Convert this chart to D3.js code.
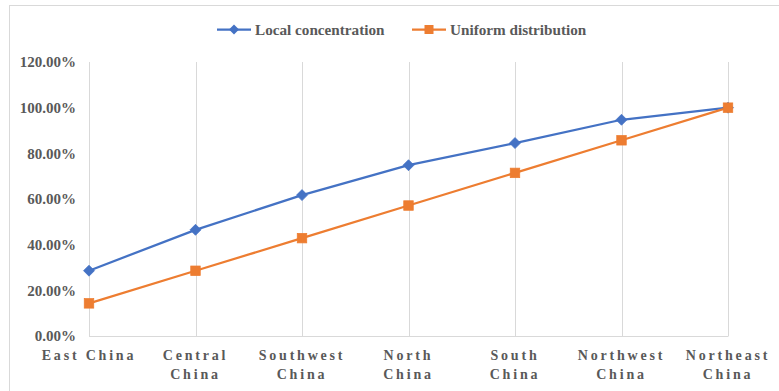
<!DOCTYPE html>
<html><head><meta charset="utf-8">
<script src="https://cdn.jsdelivr.net/npm/d3@7"></script>
<style>body{margin:0;background:#fff}svg{display:block}</style>
</head><body>
<svg id="c" width="779" height="391"></svg>
<script>
const categories = [["East China"],["Central","China"],["Southwest","China"],["North","China"],["South","China"],["Northwest","China"],["Northeast","China"]];
const localConcentration = [0.286, 0.465, 0.617, 0.748, 0.845, 0.947, 1.0];
const uniformDistribution = [0.1429, 0.2857, 0.4286, 0.5714, 0.7143, 0.8571, 1.0];
const yTicks = [0, 0.2, 0.4, 0.6, 0.8, 1.0, 1.2];
const seriesNames = ["Local concentration", "Uniform distribution"];
const colors = ["#4472C4", "#ED7D31"];

const svg = d3.select("#c");
const font = "'Liberation Serif','Times New Roman',serif";
// chart border
svg.append("rect").attr("x",9.5).attr("y",5.5).attr("width",800).attr("height",400)
  .attr("fill","none").attr("stroke","#d9d9d9").attr("stroke-width",1);

const x = d3.scalePoint().domain(d3.range(categories.length)).range([89, 728]);
const y = d3.scaleLinear().domain([0, 1.2]).range([336, 62]);

// vertical gridlines
svg.append("g").selectAll("line").data(d3.range(categories.length)).join("line")
  .attr("x1", d => Math.round(x(d))+0.5).attr("x2", d => Math.round(x(d))+0.5)
  .attr("y1", y(1.2)).attr("y2", y(0))
  .attr("stroke","#d9d9d9").attr("stroke-width",1);
// bottom axis line
svg.append("line").attr("x1",x(0)).attr("x2",x(6)+0.5).attr("y1",Math.round(y(0))+0.5).attr("y2",Math.round(y(0))+0.5)
  .attr("stroke","#d9d9d9").attr("stroke-width",1);

// y axis labels
const yAxis = d3.axisLeft(y).tickValues(yTicks).tickFormat(d => (d*100).toFixed(2)+"%").tickSize(0).tickPadding(0);
const yg = svg.append("g").attr("transform","translate(76,0)").call(yAxis);
yg.select(".domain").remove();
yg.selectAll("text").attr("font-family",font).attr("font-size","15px").attr("font-weight","bold").attr("fill","#595959");

// x labels
const xl = svg.append("g").selectAll("text").data(categories).join("text")
  .attr("x",(d,i)=>x(i)).attr("y",360)
  .attr("text-anchor","middle").attr("font-family",font).attr("font-size","14px").attr("font-weight","bold")
  .attr("fill","#595959").style("letter-spacing","2.8px");
xl.each(function(d){
  const t = d3.select(this);
  d.forEach((s,j)=>{ t.append("tspan").attr("x", t.attr("x")).attr("dy", j===0?0:19).text(s); });
});

const line = d3.line().x((d,i)=>x(i)).y(d=>y(d));
const data = [localConcentration, uniformDistribution];
data.forEach((vals, k) => {
  svg.append("path").datum(vals).attr("d", line).attr("fill","none")
    .attr("stroke", colors[k]).attr("stroke-width",2.25).attr("stroke-linejoin","round");
});
// markers
svg.append("g").selectAll("path").data(localConcentration).join("path")
  .attr("transform",(d,i)=>`translate(${x(i)},${y(d)})`)
  .attr("d","M0,-5.5L5.5,0L0,5.5L-5.5,0Z").attr("fill",colors[0]).attr("stroke",colors[0]).attr("stroke-width",0.75);
svg.append("g").selectAll("rect").data(uniformDistribution).join("rect")
  .attr("x",(d,i)=>x(i)-4.75).attr("y",d=>y(d)-4.75).attr("width",9.5).attr("height",9.5)
  .attr("fill",colors[1]).attr("stroke",colors[1]).attr("stroke-width",0.75);

// legend
const leg = [{x0:217, tx:255}, {x0:412, tx:450}];
leg.forEach((l,k)=>{
  const g = svg.append("g");
  g.append("line").attr("x1",l.x0).attr("x2",l.x0+34).attr("y1",29.5).attr("y2",29.5).attr("stroke",colors[k]).attr("stroke-width",2.25);
  if(k===0) g.append("path").attr("transform",`translate(${l.x0+17},29.5)`).attr("d","M0,-5L5,0L0,5L-5,0Z").attr("fill",colors[0]);
  else g.append("rect").attr("x",l.x0+17-4.5).attr("y",25).attr("width",9).attr("height",9).attr("fill",colors[1]);
  g.append("text").attr("x",l.tx).attr("y",34.5).attr("font-family",font).attr("font-size","15.2px").attr("font-weight","bold")
    .attr("fill","#595959").text(seriesNames[k]);
});
</script>
</body></html>
